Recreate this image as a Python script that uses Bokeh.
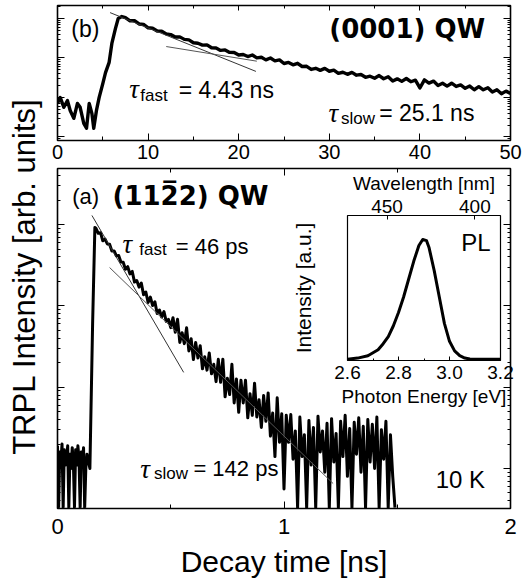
import numpy as np
from bokeh.plotting import figure
from bokeh.models import (Range1d, LinearAxis, LogAxis, FixedTicker, Label,
                          PrintfTickFormatter, CustomJSTickFormatter)
from bokeh.layouts import column
from bokeh.embed import file_html
from bokeh.resources import INLINE

# ---------------- data : panel (a) (11-22) QW, TRPL at 10 K ----------------
t_a_base = [0.000, 0.005, 0.010, 0.015, 0.020, 0.025, 0.030, 0.035, 0.040,
            0.045, 0.050, 0.055, 0.060, 0.065, 0.070, 0.075, 0.080, 0.085,
            0.090, 0.095, 0.100, 0.105, 0.110, 0.115, 0.120, 0.125, 0.130]
I_a_base = [1.9, 0.33, 1.6, 1.2, 2.0, 0.33, 1.7, 1.1, 1.3, 1.9, 0.33, 1.5, 1.0,
            1.8, 1.2, 0.33, 1.7, 1.1, 1.9, 1.3, 0.33, 1.6, 1.2, 1.8, 0.33, 1.0, 1.5]
t_a_rise = [0.143, 0.155, 0.165]
I_a_rise = [1.0, 60, 920]
t_a_decay = np.round(np.arange(0.17, 1.4951, 0.01), 2)
I_a_decay = [895, 780, 794, 631, 662, 577, 571, 474, 474, 412, 417, 346, 343, 282,
             303, 247, 265, 196, 205, 170, 191, 137, 148, 110, 128, 101, 112, 80.5,
             88.7, 73.1, 85.1, 64.6, 68.2, 54.0,
             71.6, 47.3, 68.4, 35.5, 46.8, 34.3, 53.7, 27.9, 39.4, 21.9,
             35.5, 22.9, 32.4, 16.8, 23.7, 16.2, 26.3, 14.6, 19.1, 11.7,
             22.0, 11.5, 22.1, 7.6, 12.9, 8.1, 19.1, 6.4, 12.6, 4.9,
             12.2, 6.4, 12.2, 4.2, 8.3, 4.5, 11.2, 4.3, 7.0, 3.2,
             7.9, 3.8, 8.5, 2.5, 4.8, 1.4, 7.4, 2.1, 4.7, 0.56,
             4.5, 2.1, 4.6, 1.3, 2.9, 0.33, 4.3, 1.4, 2.6, 0.33,
             3.9, 1.1, 3.2, 0.33, 4.4, 1.6, 2.9, 0.9, 3.6, 0.33,
             4.1, 1.2, 2.7, 0.33, 3.8, 1.4, 4.5, 0.8, 3.1, 0.33,
             3.7, 1.5, 4.2, 0.9, 3.3, 0.33, 4.0, 1.2, 3.5, 1.0,
             4.3, 0.33, 3.0, 1.3, 3.8, 0.33, 2.6, 0.8, 0.33]
assert len(t_a_decay) == len(I_a_decay)
t_a = list(t_a_base) + list(t_a_rise) + list(t_a_decay)
I_a = list(I_a_base) + list(I_a_rise) + list(I_a_decay)

fit_a_fast_t = [0.152, 0.557]
fit_a_fast_I = [1294, 15.2]
fit_a_slow_t = [0.230, 1.217]
fit_a_slow_I = [296, 0.653]

# ---------------- data : panel (b) (0001) QW ----------------
t_b_start = [0.0, 0.3, 0.7, 1.1, 1.4, 1.8, 2.2, 2.5, 2.9, 3.2, 3.5, 3.8, 4.0,
             4.3, 4.6, 5.0, 5.3, 5.7, 6.0, 6.4, 6.7, 7.1]
log10_I_b_start = [0.85, 1.0, 0.75, 0.92, 0.67, 0.47, 0.85, 0.75, 0.34, 0.22,
                   0.85, 0.59, 0.22, 0.67, 1.0, 1.35, 1.63, 1.89, 2.37, 2.75,
                   3.0, 3.05]
t_b_decay = np.round(np.arange(7.5, 50.01, 0.5), 1)
log10_I_b_decay = [3.022, 2.942, 2.945, 2.862, 2.85, 2.765, 2.755, 2.685, 2.682,
                   2.61, 2.592, 2.532, 2.535, 2.472, 2.46, 2.385, 2.375, 2.325,
                   2.332, 2.26, 2.252, 2.192, 2.205, 2.142, 2.14, 2.075,
                   2.088, 2.036, 2.076, 2.004, 2.02, 1.952, 2.00, 1.928, 1.952,
                   1.86, 1.888, 1.826, 1.866, 1.784, 1.79, 1.71, 1.738, 1.686,
                   1.736, 1.664, 1.692, 1.61, 1.638, 1.586, 1.636, 1.564, 1.58,
                   1.51, 1.538, 1.486,
                   1.555, 1.474, 1.524, 1.415, 1.471, 1.407, 1.48, 1.398, 1.438,
                   1.24, 1.445, 1.364, 1.414, 1.305, 1.361, 1.287, 1.36, 1.278,
                   1.318, 1.232, 1.288, 1.195, 1.274, 1.194, 1.245, 1.136, 1.193,
                   1.095, 1.16, 1.10]
assert len(t_b_decay) == len(log10_I_b_decay)
t_b = list(t_b_start) + list(t_b_decay)
I_b = list(10 ** np.array(log10_I_b_start + log10_I_b_decay))

fit_b_fast_t = [5.8, 21.9]
fit_b_fast_I = [1413, 45.7]
fit_b_slow_t = [12.0, 22.0]
fit_b_slow_I = [195, 83]

# ---------------- data : inset PL spectrum ----------------
pl_energy = [2.60, 2.64, 2.68, 2.72, 2.74, 2.76, 2.78, 2.80, 2.82, 2.84, 2.86,
             2.88, 2.895, 2.91, 2.92, 2.94, 2.96, 2.98, 3.00, 3.02, 3.04, 3.06,
             3.08, 3.10, 3.20]
pl_intensity = [0.0, 0.01, 0.03, 0.08, 0.13, 0.19, 0.28, 0.39, 0.52, 0.67, 0.82,
                0.95, 1.0, 0.99, 0.93, 0.74, 0.52, 0.30, 0.15, 0.07, 0.03, 0.01,
                0.003, 0.0, 0.0]

x_ticks_a = [0, 1, 2]
x_minor_a = [0.5, 1.5]
x_ticks_b = [0, 10, 20, 30, 40, 50]
x_minor_b = [5, 15, 25, 35, 45]
decades = [0.01, 0.1, 1, 10, 100, 1000, 10000]
log_minor = [k * d for d in decades for k in range(2, 10)]
pl_ticks = [2.6, 2.8, 3.0, 3.2]
pl_minor = [2.7, 2.9, 3.1]
wavelength_ticks_nm = [450, 400]

FONT = "Liberation Sans"


def style_axis(ax, label_size=None, standoff=0, tick_in=7, minor_in=4):
    ax.axis_line_color = None
    ax.major_tick_in = tick_in
    ax.major_tick_out = 0
    ax.minor_tick_in = minor_in
    ax.minor_tick_out = 0
    ax.major_tick_line_color = "black"
    ax.minor_tick_line_color = "black"
    ax.major_tick_line_width = 1
    ax.minor_tick_line_width = 1
    ax.major_label_standoff = standoff
    if label_size is None:
        ax.major_label_text_color = None
    else:
        ax.major_label_text_font_size = label_size
        ax.major_label_text_font = FONT
        ax.major_label_text_color = "black"
    ax.axis_label_text_font = FONT
    ax.axis_label_text_font_style = "normal"
    ax.axis_label_text_color = "black"


def add_label(p, x, y, text, size, font=FONT, style="normal", align="left",
              baseline="middle", angle=0.0):
    p.add_layout(Label(x=x, y=y, text=text, text_font_size=size, text_font=font,
                       text_font_style=style, text_align=align,
                       text_baseline=baseline, angle=angle, text_color="black"))


def bare_figure(**kw):
    p = figure(x_axis_location=None, y_axis_location=None, title_location=None,
               output_backend="svg", toolbar_location=None, **kw)
    p.xgrid.visible = False
    p.ygrid.visible = False
    return p


def holder(left, top, width, height, borders):
    """A transparent, empty figure laid over the page (for axis titles)."""
    p = bare_figure(width=width, height=height, x_range=Range1d(0, 1),
                    y_range=Range1d(0, 1), min_border_left=borders[0],
                    min_border_right=borders[1], min_border_top=borders[2],
                    min_border_bottom=borders[3])
    p.styles = {"position": "absolute", "left": f"{left}px", "top": f"{top}px"}
    p.outline_line_color = None
    p.background_fill_color = None
    p.border_fill_color = None
    return p


def title_figure(text, side, size, left, top, width, height, borders):
    p = holder(left, top, width, height, borders)
    ax = LinearAxis(ticker=FixedTicker(ticks=[]), axis_label=text)
    style_axis(ax)
    ax.axis_label_text_font_size = size
    ax.axis_label_standoff = 0
    p.add_layout(ax, side)
    return p


# ---------------- main panel (a) ----------------
pa = bare_figure(width=526, height=579, x_range=Range1d(0, 2),
                 y_range=Range1d(0.322, 4890), y_axis_type="log",
                 min_border_left=57, min_border_right=9, min_border_top=168,
                 min_border_bottom=71)
pa.outline_line_color = "black"
pa.outline_line_width = 1.6
pa.border_fill_color = "white"

ax = LinearAxis(ticker=FixedTicker(ticks=x_ticks_a, minor_ticks=x_minor_a))
style_axis(ax, "22px", standoff=10)
pa.add_layout(ax, "below")
ax = LinearAxis(ticker=FixedTicker(ticks=x_ticks_a, minor_ticks=x_minor_a))
style_axis(ax)
pa.add_layout(ax, "above")
for side in ("left", "right"):
    ax = LogAxis(ticker=FixedTicker(ticks=decades, minor_ticks=log_minor))
    style_axis(ax, tick_in=7, minor_in=3)
    pa.add_layout(ax, side)

pa.line(t_a, I_a, line_width=3, color="black", line_join="round")
pa.line(fit_a_fast_t, fit_a_fast_I, line_width=1, color="#333333")
pa.line(fit_a_slow_t, fit_a_slow_I, line_width=1, color="#555555")

add_label(pa, 0.065, 2218, "(a)", "22px")
add_label(pa, 0.243, 2218, "(112\u03052) QW", "26px", font="DejaVu Sans", style="bold")
add_label(pa, 0.287, 569, "\u03c4", "27px", font="Liberation Serif", style="italic")
add_label(pa, 0.361, 494, "fast", "17px")
add_label(pa, 0.522, 538, "= 46 ps", "22px")
add_label(pa, 0.365, 0.972, "\u03c4", "27px", font="Liberation Serif", style="italic")
add_label(pa, 0.426, 0.868, "slow", "17px")
add_label(pa, 0.600, 1.0, "= 142 ps", "22px")
add_label(pa, 1.670, 0.732, "10 K", "24px")

# ---------------- axis titles ----------------
ylab = title_figure("TRPL Intensity [arb. units]", "left", "31px",
                    left=0, top=66, width=57, height=420, borders=(41, 0, 0, 0))
xlab = holder(0, 540, 526, 39, (57, 9, 0, 0))
add_label(xlab, 0.5, 0.46, "Decay time [ns]", "30px", align="center")

# ---------------- top panel (b) ----------------
pb = bare_figure(width=526, height=167, x_range=Range1d(0, 50),
                 y_range=Range1d(0.81, 2140), y_axis_type="log",
                 min_border_left=57, min_border_right=9, min_border_top=5,
                 min_border_bottom=27)
pb.styles = {"position": "absolute", "left": "0px", "top": "0px"}
pb.outline_line_color = "black"
pb.outline_line_width = 1.6
pb.border_fill_color = None

ax = LinearAxis(ticker=FixedTicker(ticks=x_ticks_b, minor_ticks=x_minor_b))
style_axis(ax, "20px", standoff=4)
pb.add_layout(ax, "below")
ax = LinearAxis(ticker=FixedTicker(ticks=x_ticks_b, minor_ticks=x_minor_b))
style_axis(ax, tick_in=5, minor_in=3)
pb.add_layout(ax, "above")
for side in ("left", "right"):
    ax = LogAxis(ticker=FixedTicker(ticks=decades, minor_ticks=log_minor))
    style_axis(ax, tick_in=7, minor_in=3)
    pb.add_layout(ax, side)

pb.line(t_b, I_b, line_width=3.4, color="black", line_join="round")
pb.line(fit_b_fast_t, fit_b_fast_I, line_width=1, color="#333333")
pb.line(fit_b_slow_t, fit_b_slow_I, line_width=1, color="#555555")

add_label(pb, 1.52, 558, "(b)", "23px")
add_label(pb, 30.0, 558, "(0001) QW", "26px", font="DejaVu Sans", style="bold")
add_label(pb, 7.93, 15.9, "\u03c4", "27px", font="Liberation Serif", style="italic")
add_label(pb, 9.13, 11.2, "fast", "17px")
add_label(pb, 13.37, 15.0, "= 4.43 ns", "23px")
add_label(pb, 29.9, 3.94, "\u03c4", "27px", font="Liberation Serif", style="italic")
add_label(pb, 31.3, 2.94, "slow", "17px")
add_label(pb, 35.5, 3.94, "= 25.1 ns", "23px")

# ---------------- inset PL ----------------
pin = bare_figure(width=226, height=248, x_range=Range1d(2.6, 3.2),
                  y_range=Range1d(-0.01, 1.2),
                  min_border_left=41, min_border_right=16, min_border_top=48,
                  min_border_bottom=55)
pin.styles = {"position": "absolute", "left": "290px", "top": "167px"}
pin.outline_line_color = "black"
pin.outline_line_width = 1.2
pin.border_fill_color = None

ax = LinearAxis(ticker=FixedTicker(ticks=pl_ticks, minor_ticks=pl_minor),
                formatter=PrintfTickFormatter(format="%.1f"),
                axis_label="Photon Energy [eV]")
style_axis(ax, "19px", standoff=5, tick_in=4, minor_in=2)
ax.axis_label_text_font_size = "19px"
ax.axis_label_standoff = 4
pin.add_layout(ax, "below")

ax = LinearAxis(ticker=FixedTicker(ticks=[1239.84 / w for w in wavelength_ticks_nm]),
                formatter=CustomJSTickFormatter(code="return Math.round(1239.84 / tick).toString();"),
                axis_label="Wavelength [nm]")
style_axis(ax, "19px", standoff=3, tick_in=4, minor_in=0)
ax.axis_label_text_font_size = "19px"
ax.axis_label_standoff = 3
pin.add_layout(ax, "above")

pin.line(pl_energy, pl_intensity, line_width=3, color="black", line_join="round")
add_label(pin, 3.104, 0.975, "PL", "24px", align="center")

ilab = title_figure("Intensity [a.u.]", "left", "21px",
                    left=288, top=215, width=42, height=145, borders=(29, 0, 0, 0))

root = column(pa, ylab, xlab, pb, pin, ilab,
              styles={"position": "absolute", "left": "0px", "top": "0px"})

open("out.html", "w").write(file_html(root, INLINE))
